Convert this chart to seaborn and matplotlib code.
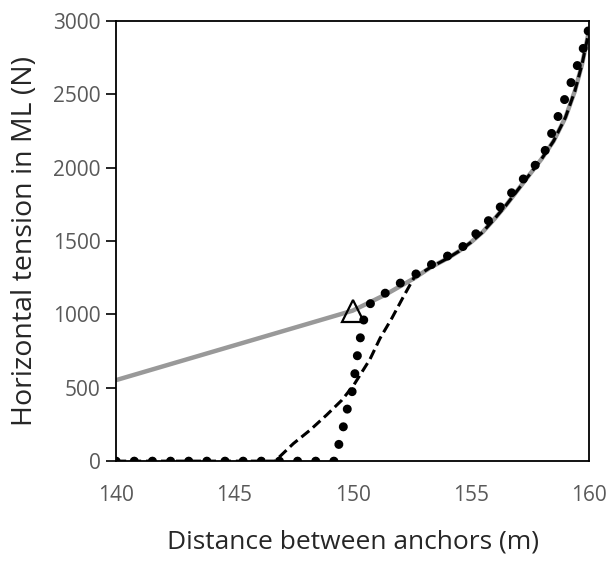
import matplotlib
matplotlib.use('Agg')
import matplotlib.pyplot as plt
import seaborn as sns
import pandas as pd

# distance between anchors (m) / horizontal tension (N)
gray_x = [140, 150.0, 150.7, 151.4, 152.0, 152.6, 153.3, 154.0, 154.5, 155.0,
          155.5, 156.0, 156.5, 157.0, 157.5, 158.0, 158.5, 159.0, 159.4, 159.7, 160.0]
gray_y = [552, 1025, 1080, 1135, 1190, 1245, 1320, 1380, 1430, 1490,
          1560, 1650, 1745, 1850, 1955, 2060, 2180, 2340, 2520, 2700, 2930]

dash_x = [140, 146.72, 147.5, 148.2, 148.9, 149.55, 150.05, 150.74, 151.16, 151.66,
          152.15, 152.6, 153.3, 154.0, 154.5, 155.0, 155.5, 156.0, 156.5,
          157.0, 157.5, 158.0, 158.5, 159.0, 159.4, 159.7, 160.0]
dash_y = [0, 0, 120, 211, 314, 416, 518, 695, 836, 973,
          1120, 1250, 1320, 1380, 1430, 1490, 1560, 1650, 1745,
          1850, 1955, 2060, 2180, 2340, 2520, 2700, 2930]

dot_x = [140, 149.25, 149.43, 149.61, 149.78, 150.0, 150.13, 150.22, 150.33, 150.43,
         150.53, 150.67, 151.37, 152.0, 152.68, 153.3, 154.05, 154.7, 155.5, 156.1,
         156.5, 157.0, 157.5, 158.05, 158.6, 159.15, 159.7, 160.0]
dot_y = [0, 0, 120, 234, 357, 484, 632, 738, 840, 927,
         1007, 1063, 1143, 1211, 1275, 1336, 1400, 1465, 1595, 1700,
         1785, 1880, 1975, 2075, 2310, 2540, 2780, 2950]

tri_x = [150.0]
tri_y = [1025]

x_ticks = [140, 145, 150, 155, 160]
y_ticks = [0, 500, 1000, 1500, 2000, 2500, 3000]


def main():
    sns.set_style('white')
    plt.rcParams['font.family'] = ['Open Sans', 'DejaVu Sans']

    fig = plt.figure(figsize=(6.11, 5.61), dpi=100)
    ax = fig.add_axes([0.19, 0.178, 0.774, 0.785])

    gray = pd.DataFrame({'x': gray_x, 'y': gray_y})
    dash = pd.DataFrame({'x': dash_x, 'y': dash_y})
    dots = pd.DataFrame({'x': dot_x, 'y': dot_y})

    sns.lineplot(x='x', y='y', data=gray, ax=ax, color='#999999', lw=3.2)
    sns.lineplot(x='x', y='y', data=dash, ax=ax, color='black', lw=2.2,
                 linestyle=(0, (3.3, 1.6)))
    sns.lineplot(x='x', y='y', data=dots, ax=ax, color='black', lw=6.5,
                 linestyle=(0, (0.01, 2.0)), dash_capstyle='round')
    ax.plot(tri_x, tri_y, marker='^', ms=16, mfc='none', mec='black', mew=1.6,
            ls='none')

    ax.set_xlim(140, 160)
    ax.set_ylim(0, 3000)
    ax.set_xticks(x_ticks)
    ax.set_yticks(y_ticks)
    ax.tick_params(axis='y', direction='out', length=7, width=1.2, color='black',
                   labelsize=15, labelcolor='#595959', pad=4, left=True)
    ax.tick_params(axis='x', length=0, labelsize=15, labelcolor='#595959', pad=17)
    for s in ax.spines.values():
        s.set_color('black')
        s.set_linewidth(1.3)

    ax.set_xlabel('Distance between anchors (m)', fontsize=19, labelpad=17)
    ax.set_ylabel('Horizontal tension in ML (N)', fontsize=20.5, labelpad=10)

    fig.savefig('out.png', dpi=100)


if __name__ == '__main__':
    main()
